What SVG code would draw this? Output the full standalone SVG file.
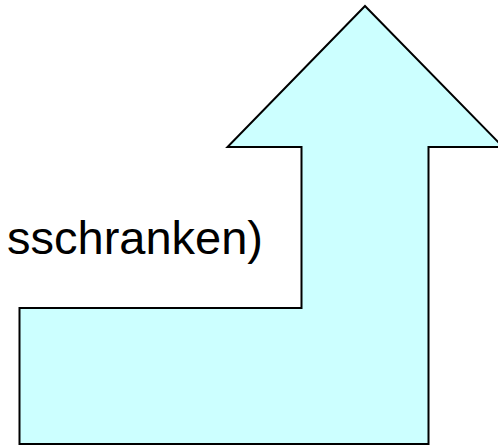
<svg xmlns="http://www.w3.org/2000/svg" width="498" height="446" viewBox="0 0 498 446">
  <style>
    .shape { fill: #CCFFFF; stroke: #000000; stroke-width: 2; stroke-linejoin: miter; }
    .label { font-family: "Liberation Sans", Arial, sans-serif; font-size: 47px; fill: #000000; }
  </style>
  <rect width="498" height="446" fill="#FFFFFF"/>
  <g id="arrow">
    <polygon class="shape" points="365,6 503,147 428.5,147 428.5,444 19.5,444 19.5,308 301.5,308 301.5,147 227.5,147"/>
  </g>
  <g id="label">
    <text class="label" x="263" y="254" text-anchor="end">sschranken)</text>
  </g>
</svg>
